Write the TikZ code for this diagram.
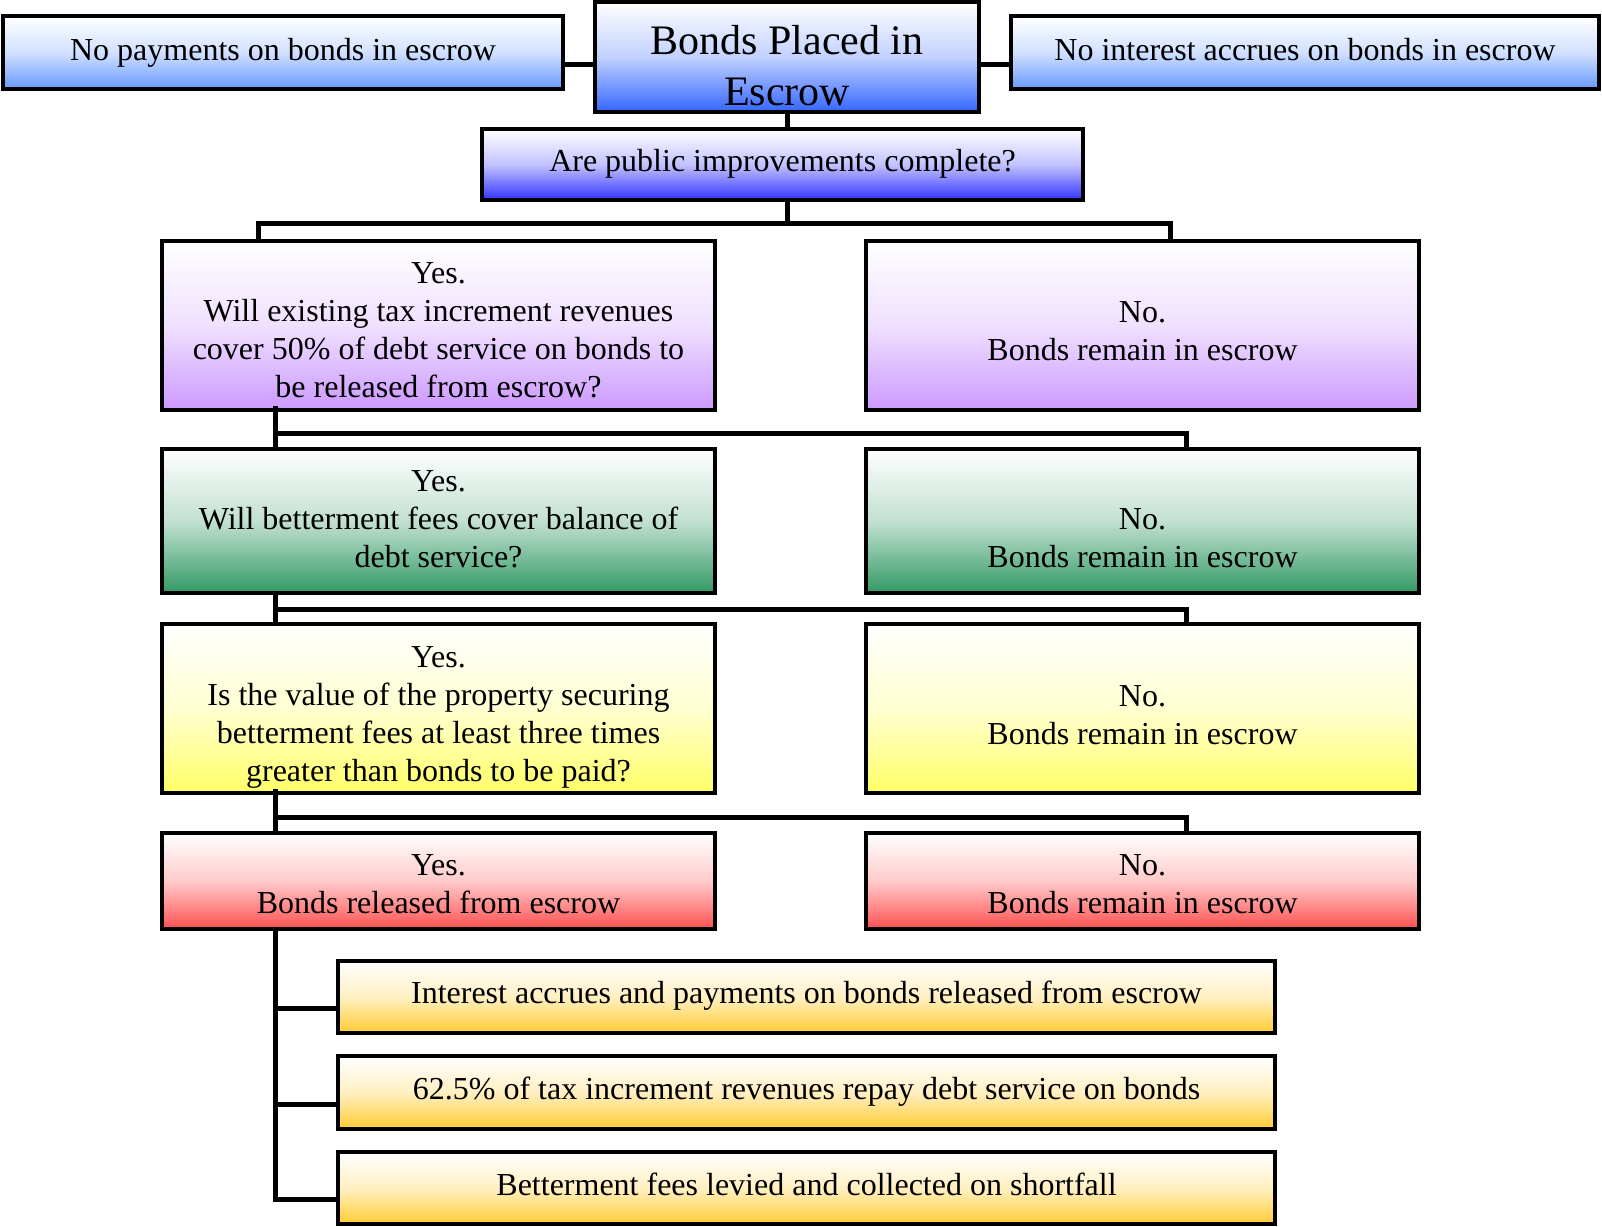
\documentclass[tikz,border=0pt]{standalone}
\usepackage{fontspec}
\setmainfont{Liberation Serif}
\definecolor{cTop}{HTML}{6699FF}
\definecolor{cTitle}{HTML}{3366FF}
\definecolor{cQ}{HTML}{3333FF}
\definecolor{cPur}{HTML}{CC99FF}
\definecolor{cGrn}{HTML}{339966}
\definecolor{cYel}{HTML}{FFFF66}
\definecolor{cRed}{HTML}{FF5050}
\definecolor{cOra}{HTML}{FFCC33}
\begin{document}
\begin{tikzpicture}[x=1pt,y=-1pt,
  box/.style={draw=black, line width=4pt, inner sep=0pt, top color=white},
  grad/.style={bottom color=#1, middle color=#1!30!white},
  txt/.style={inner sep=0pt, align=center, font=\fontsize{32}{38}\selectfont},
  conn/.style={draw=black, line width=5pt, line join=miter}]
\useasboundingbox (0,0) rectangle (1602,1226);
% top row
\node[box, grad=cTop, minimum width=560pt, minimum height=73pt] (tl) at (283,52.5) {};
\node[txt] (tlt) at (tl.center) {No payments on bonds in escrow};
\node[box, grad=cTitle, minimum width=384pt, minimum height=110pt] (title) at (787,57) {};
\node[txt, font=\fontsize{42}{51}\selectfont] (titlet) at ([yshift=-9pt]title.center) {Bonds Placed in\\Escrow};
\node[box, grad=cTop, minimum width=588pt, minimum height=73pt] (tr) at (1305,52.5) {};
\node[txt] (trt) at ([yshift=3pt]tr.center) {No interest accrues on bonds in escrow};
\node[box, grad=cQ, minimum width=601pt, minimum height=71pt] (q) at (782.5,164.5) {};
\node[txt] (qt) at ([yshift=1pt]q.center) {Are public improvements complete?};
% row 1
\node[box, grad=cPur, minimum width=553pt, minimum height=169pt] (r1L) at (438.5,325.5) {};
\node[txt] (r1Lt) at ([yshift=-5pt]r1L.center) {Yes.\\Will existing tax increment revenues\\cover 50\% of debt service on bonds to\\be released from escrow?};
\node[box, grad=cPur, minimum width=553pt, minimum height=169pt] (r1R) at (1142.5,325.5) {};
\node[txt] (r1Rt) at ([yshift=-6pt]r1R.center) {No.\\Bonds remain in escrow};
% row 2
\node[box, grad=cGrn, minimum width=553pt, minimum height=144pt] (r2L) at (438.5,521) {};
\node[txt] (r2Lt) at ([yshift=2pt]r2L.center) {Yes.\\Will betterment fees cover balance of\\debt service?};
\node[box, grad=cGrn, minimum width=553pt, minimum height=144pt] (r2R) at (1142.5,521) {};
\node[txt] (r2Rt) at ([yshift=-17pt]r2R.center) {No.\\Bonds remain in escrow};
% row 3
\node[box, grad=cYel, minimum width=553pt, minimum height=169pt] (r3L) at (438.5,708.5) {};
\node[txt] (r3Lt) at ([yshift=-9pt]r3L.center) {Yes.\\Is the value of the property securing\\betterment fees at least three times\\greater than bonds to be paid?};
\node[box, grad=cYel, minimum width=553pt, minimum height=169pt] (r3R) at (1142.5,708.5) {};
\node[txt] (r3Rt) at ([yshift=-7pt]r3R.center) {No.\\Bonds remain in escrow};
% row 4
\node[box, grad=cRed, minimum width=553pt, minimum height=96pt] (r4L) at (438.5,881) {};
\node[txt] (r4Lt) at ([yshift=-3pt]r4L.center) {Yes.\\Bonds released from escrow};
\node[box, grad=cRed, minimum width=553pt, minimum height=96pt] (r4R) at (1142.5,881) {};
\node[txt] (r4Rt) at ([yshift=-3pt]r4R.center) {No.\\Bonds remain in escrow};
% bottom boxes
\node[box, grad=cOra, minimum width=937pt, minimum height=72pt] (b1) at (806.5,997) {};
\node[txt] (b1t) at ([yshift=1pt]b1.center) {Interest accrues and payments on bonds released from escrow};
\node[box, grad=cOra, minimum width=937pt, minimum height=73pt] (b2) at (806.5,1092.5) {};
\node[txt] (b2t) at ([yshift=1pt]b2.center) {62.5\% of tax increment revenues repay debt service on bonds};
\node[box, grad=cOra, minimum width=937pt, minimum height=72pt] (b3) at (806.5,1188) {};
\node[txt] (b3t) at ([yshift=4pt]b3.center) {Betterment fees levied and collected on shortfall};
% connector coordinates
\coordinate (hy) at (0,64);
\coordinate (j0) at (787,223);
\coordinate (aL) at (258,223);
\coordinate (aR) at (1170,223);
\coordinate (p1) at (275,433);
\coordinate (q1) at (1186,433);
\coordinate (p2) at (275,609);
\coordinate (q2) at (1186,609);
\coordinate (p3) at (275,817);
\coordinate (q3) at (1186,817);
\coordinate (s1) at (275,1008);
\coordinate (s2) at (275,1104);
\coordinate (s3) at (275,1199);
\path ([yshift=6pt]r1L.south) coordinate (r1Ls);
\path ([yshift=6pt]r3L.south) coordinate (r3Ls);
% connectors
\draw[conn] (tl.east |- hy) -- (title.west |- hy);
\draw[conn] (title.east |- hy) -- (tr.west |- hy);
\draw[conn] (title.south) -- (title.south |- q.north);
\draw[conn] (q.south -| j0) -- (j0);
\draw[conn] (r1L.north -| aL) -- (aL) -- (aR) -- (r1R.north -| aR);
\draw[conn] (r1Ls -| p1) -- (r2L.north -| p1);
\draw[conn] (p1) -- (q1) -- (r2R.north -| q1);
\draw[conn] (r2L.south -| p2) -- (r3L.north -| p2);
\draw[conn] (p2) -- (q2) -- (r3R.north -| q2);
\draw[conn] (r3Ls -| p3) -- (r4L.north -| p3);
\draw[conn] (p3) -- (q3) -- (r4R.north -| q3);
\draw[conn] (r4L.south -| s1) -- (s3) -- (b3.west |- s3);
\draw[conn] (s1) -- (b1.west |- s1);
\draw[conn] (s2) -- (b2.west |- s2);
\end{tikzpicture}
\end{document}
